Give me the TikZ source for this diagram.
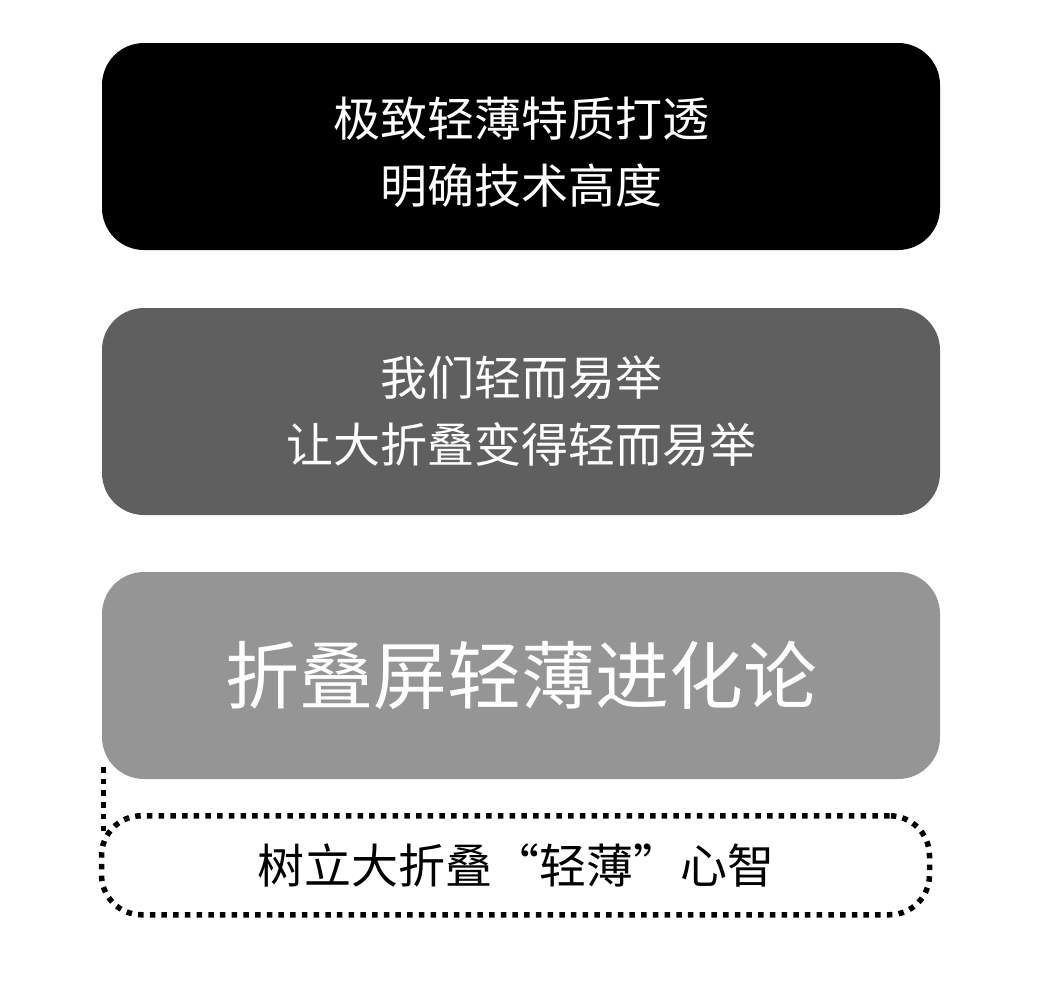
\documentclass[tikz,border=0pt]{standalone}
\usepackage{fontspec}
\setmainfont{Noto Sans CJK SC}
\usetikzlibrary{positioning}
\definecolor{boxgray}{RGB}{95,95,95}
\definecolor{boxlight}{RGB}{149,149,149}
\begin{document}
\begin{tikzpicture}[node distance=58pt,
    box/.style={rounded corners=42pt, minimum width=838pt, minimum height=207pt,
        inner sep=0pt, outer sep=0pt, text=white, align=center,
        font=\fontsize{47pt}{67pt}\selectfont},
    dotline/.style={line width=5.5pt, dash pattern=on 5.5pt off 6.2pt}]
    \useasboundingbox (0,0) rectangle (1048pt,-988pt);

    \node (tech) [box, fill=black] at (521pt,-146.5pt) {\rule{0pt}{51pt}极致轻薄特质打透\\明确技术高度};
    \node (ease) [box, fill=boxgray, below=of tech] {我们轻而易举\\让大折叠变得轻而易举};
    \node (gist) [box, fill=boxlight, below=57pt of ease,
        font=\fontsize{74pt}{74pt}\selectfont] {折叠屏轻薄进化论};
    \node (mind) [draw, dotline, rounded corners=40pt, minimum width=828pt,
        minimum height=99pt, inner sep=0pt, below=34pt of gist, xshift=-5.5pt,
        font=\fontsize{47pt}{67pt}\selectfont] {树立大折叠“轻薄”心智};

    \coordinate (tail) at ([shift={(1.5pt,12pt)}]gist.south west);
    \draw[dotline] (tail) -- ([yshift=-18pt]tail |- mind.north);
\end{tikzpicture}
\end{document}
